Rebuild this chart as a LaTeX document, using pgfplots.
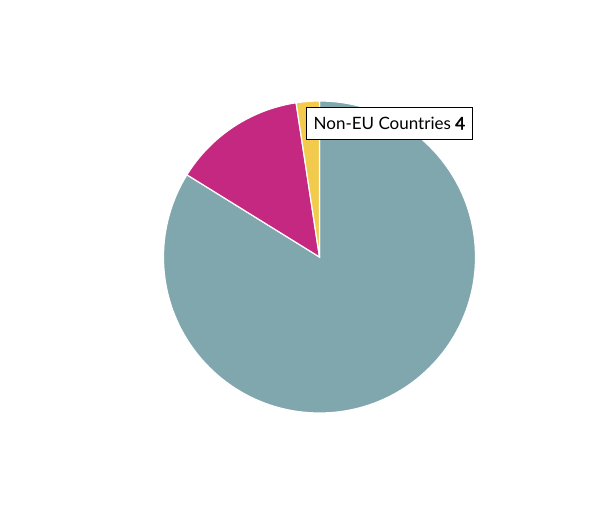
\documentclass[border=0pt]{standalone}
\usepackage{pgfplots}
\usepackage{pgfplotstable}
\usepackage{fontspec}
\pgfplotsset{compat=1.18}
\setmainfont{Lato}
\newfontfamily\valfont{Lato}[FakeBold=2.2]

\definecolor{slTeal}{RGB}{127,167,173}
\definecolor{slMagenta}{RGB}{196,40,128}
\definecolor{slYellow}{RGB}{242,202,76}

% slices, clockwise from 12 o'clock
\pgfplotstableread{
name value
EU 140
Other 23
NonEU 4
}\piedata

\begin{document}
\begin{tikzpicture}
% page is 600x510, pie centre at (319.5,257) from the top left
\useasboundingbox (-319.5pt,-253pt) rectangle (280.5pt,257pt);
% cumulative angles
\pgfplotstablegetelem{0}{value}\of\piedata \let\vA\pgfplotsretval
\pgfplotstablegetelem{1}{value}\of\piedata \let\vB\pgfplotsretval
\pgfplotstablegetelem{2}{value}\of\piedata \let\vC\pgfplotsretval
\pgfmathsetmacro\tot{\vA+\vB+\vC}
\pgfmathsetmacro\aA{90}
\pgfmathsetmacro\aB{90-360*(\vA/\tot)}
\pgfmathsetmacro\aC{\aB-360*(\vB/\tot)}
\pgfmathsetmacro\aD{\aC-360*(\vC/\tot)}
\begin{axis}[
  at={(0pt,0pt)}, anchor=center,
  width=312pt, height=312pt, scale only axis,
  xmin=-1, xmax=1, ymin=-1, ymax=1,
  hide axis, clip=false,
]
\fill[slTeal, draw=white, line width=1.2pt]
  (axis cs:0,0) -- (axis cs:{cos(\aA)},{sin(\aA)}) arc[start angle=\aA, end angle=\aB, radius=156pt] -- cycle;
\fill[slMagenta, draw=white, line width=1.2pt]
  (axis cs:0,0) -- (axis cs:{cos(\aB)},{sin(\aB)}) arc[start angle=\aB, end angle=\aC, radius=156pt] -- cycle;
\fill[slYellow, draw=white, line width=1.2pt]
  (axis cs:0,0) -- (axis cs:{cos(\aC)},{sin(\aC)}) arc[start angle=\aC, end angle=\aD, radius=156pt] -- cycle;
\node[draw=black, line width=0.6pt, fill=white, anchor=north west,
      inner xsep=7pt, inner ysep=0pt, minimum height=32pt, minimum width=166pt,
      font=\fontsize{17}{19}\selectfont]
  at (axis cs:-0.086,0.962) {Non-EU Countries {\valfont 4}};
\end{axis}
\end{tikzpicture}
\end{document}
